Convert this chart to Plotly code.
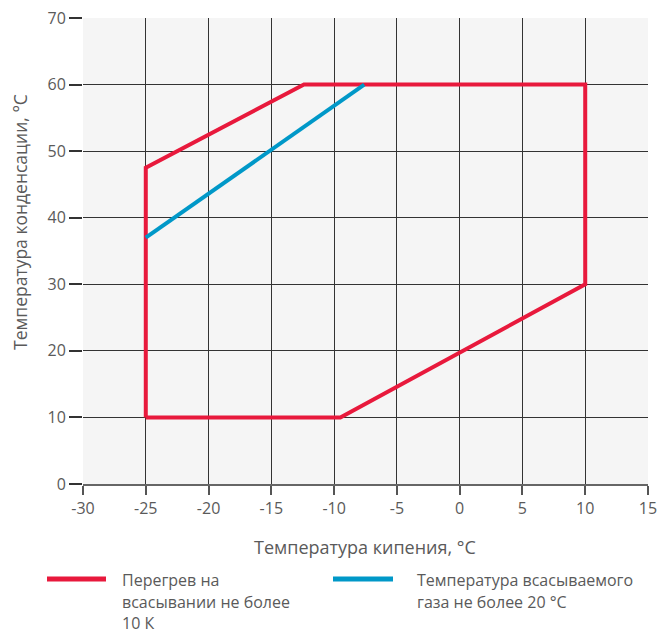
import plotly.graph_objects as go

# Data
red_x = [-25, -25, -12.4, 10, 10, -9.5, -25]
red_y = [10, 47.5, 60, 60, 30, 10, 10]
blue_x = [-25, -7.6]
blue_y = [37, 60]
red_lines = ["Перегрев на", "всасывании не более", "10 К"]
blue_lines = ["Температура всасываемого", "газа не более 20 °C"]
x_ticks = [-30, -25, -20, -15, -10, -5, 0, 5, 10, 15]
y_ticks = [0, 10, 20, 30, 40, 50, 60, 70]
x_title = "Температура кипения, °C"
y_title = "Температура конденсации, °C"

RED = "#e8193c"
BLUE = "#0098c8"
FONT = "Open Sans"
GRAY = "#5a5a5a"

fig = go.Figure()
fig.add_trace(go.Scatter(x=red_x, y=red_y, mode="lines", name="<br>".join(red_lines),
                         line=dict(color=RED, width=4)))
fig.add_trace(go.Scatter(x=blue_x, y=blue_y, mode="lines", name="<br>".join(blue_lines),
                         line=dict(color=BLUE, width=4)))

# page-pixel layout (body margin removed by post_script)
L, R, T, B = 83, 648, 18, 484
W, H = R - L, B - T
def px(x): return (x - L) / W
def py(y): return (B - y) / H

# manual legend
legend_items = [(RED, red_lines, 47, 106, 120), (BLUE, blue_lines, 333, 393, 415)]
for color, lines, lx0, lx1, tx in legend_items:
    fig.add_shape(type="line", xref="paper", yref="paper",
                  x0=px(lx0), x1=px(lx1), y0=py(579), y1=py(579),
                  line=dict(color=color, width=5))
    for i, t in enumerate(lines):
        fig.add_annotation(xref="paper", yref="paper", x=px(tx), y=py(580 + 21.5 * i),
                           xanchor="left", yanchor="middle", align="left",
                           text=t, showarrow=False,
                           font=dict(family=FONT, size=16, color=GRAY))

# axis titles
fig.add_annotation(xref="paper", yref="paper", x=px(365), y=py(547),
                   xanchor="center", yanchor="middle", text=x_title, showarrow=False,
                   font=dict(family=FONT, size=18, color=GRAY))
fig.add_annotation(xref="paper", yref="paper", x=px(20), y=py(222),
                   xanchor="center", yanchor="middle", text=y_title, showarrow=False,
                   textangle=-90, font=dict(family=FONT, size=17.5, color=GRAY))

fig.update_layout(
    width=659, height=633,
    margin=dict(l=L, r=659 - R, t=T, b=633 - B, autoexpand=False),
    plot_bgcolor="#f5f5f5", paper_bgcolor="white",
    font=dict(family=FONT, color=GRAY, size=16),
    showlegend=False,
)
fig.update_xaxes(range=[-30, 15], tickvals=x_ticks, ticktext=[str(v) for v in x_ticks],
                 automargin=False, ticklabeloverflow="allow",
                 showgrid=True, gridcolor="#333333", gridwidth=1,
                 zeroline=False, showline=True, linecolor="#666", linewidth=2,
                 ticks="outside", ticklen=9, tickcolor="#555", tickwidth=1.5,
                 tickfont=dict(size=16, color=GRAY))
fig.update_yaxes(range=[0, 70], tickvals=y_ticks,
                 automargin=False, ticklabeloverflow="allow",
                 showgrid=True, gridcolor="#333333", gridwidth=1,
                 zeroline=False, showline=False,
                 ticks="outside", ticklen=13, tickcolor="#333", tickwidth=1.5,
                 tickfont=dict(size=16, color=GRAY))

fig.write_html("out.html", config={"displayModeBar": False},
               post_script="document.body.style.margin='0';document.body.style.overflow='hidden';")
